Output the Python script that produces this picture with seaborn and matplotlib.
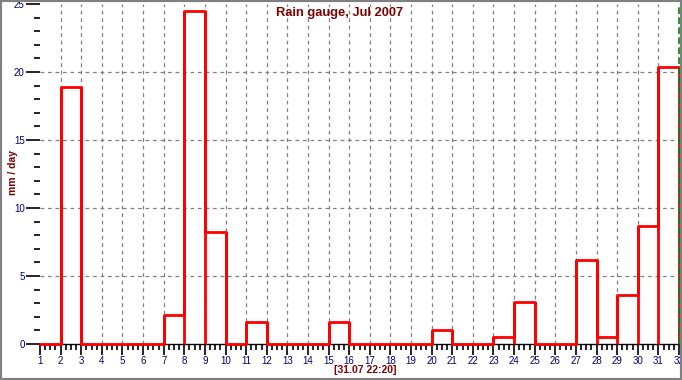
import matplotlib
matplotlib.use("Agg")
import matplotlib.pyplot as plt
import seaborn as sns
import pandas as pd
import numpy as np
from matplotlib.ticker import MultipleLocator
from matplotlib.patches import Rectangle

days = list(range(1, 32))
rain = [0, 18.9, 0, 0, 0, 0, 2.1, 24.5, 8.2, 0, 1.6, 0, 0, 0, 1.6, 0, 0, 0, 0, 1.0,
        0, 0, 0.5, 3.1, 0, 0, 6.2, 0.5, 3.6, 8.7, 20.4]
x_ticks = list(range(1, 33))
y_ticks = [0, 5, 10, 15, 20, 25]
title = "Rain gauge, Jul 2007"
xlabel = "[31.07 22:20]"
ylabel = "mm / day"
now_x = 32

sns.set_style("white")
plt.rcParams['font.family'] = ['Liberation Sans', 'DejaVu Sans']

df = pd.DataFrame({"day": days + [32], "rain": rain + [rain[-1]]})

fig = plt.figure(figsize=(6.82, 3.80), dpi=100)
W, H = 682, 380
ax = fig.add_axes([40 / W, (380 - 344) / H, (679 - 40) / W, (344 - 4) / H])

red = "#ff0000"
sns.lineplot(data=df, x="day", y="rain", ax=ax, color=red, linewidth=2.0,
             drawstyle="steps-post", zorder=3, clip_on=False)
prev = [0] + rain
ax.vlines(days + [32], 0, [max(a, b) for a, b in zip(prev, rain + [0])], color=red,
          linewidth=2.0, zorder=3, clip_on=False)
ax.axvline(now_x, color="#008000", linestyle=(0, (4, 2)), linewidth=1.2, zorder=4,
           clip_on=False)

# grid lines (inner only, like the reference)
for xv in x_ticks[1:-1]:
    ax.axvline(xv, color="#808080", linestyle=(0, (3, 3)), linewidth=0.9, zorder=1)
for yv in y_ticks[1:-1]:
    ax.axhline(yv, color="#808080", linestyle=(0, (3, 3)), linewidth=0.9, zorder=1)

ax.set_xlim(1, 32)
ax.set_ylim(0, 25)
ax.set_xticks(x_ticks)
ax.set_xticklabels([str(t) for t in x_ticks])
ax.set_yticks(y_ticks)
ax.xaxis.set_minor_locator(MultipleLocator(0.25))
ax.yaxis.set_minor_locator(MultipleLocator(1))
ax.grid(False)

for s in ["top", "right", "left"]:
    ax.spines[s].set_visible(False)
ax.spines["bottom"].set_color("black")
ax.spines["bottom"].set_linewidth(1.0)

ax.tick_params(axis="x", which="both", bottom=True)
ax.tick_params(axis="y", which="both", left=True)
ax.tick_params(axis="x", which="major", direction="out", length=8, width=1.2,
               colors="black", labelcolor="#000080", labelsize=7, pad=1)
ax.tick_params(axis="x", which="minor", direction="out", length=4, width=1.2, colors="black")
ax.tick_params(axis="y", which="major", direction="out", length=10, width=1.2,
               colors="black", labelcolor="#000080", labelsize=7, pad=1)
ax.tick_params(axis="y", which="minor", direction="out", length=4, width=1.2, colors="black")

ax.set_xlabel("")
ax.set_ylabel("")
fig.text(340 / W, 1 - 13 / H, title, color="#800000", fontsize=9.3, fontweight="bold",
         ha="center", va="center")
fig.text(365 / W, 1 - 370 / H, xlabel, color="#800000", fontsize=7.5, fontweight="bold",
         ha="center", va="center")
fig.text(13 / W, 1 - 172 / H, ylabel, color="#800000", fontsize=7.5, fontweight="bold",
         ha="center", va="center", rotation=90)

fig.patches.append(Rectangle((0, 0), 1, 1, transform=fig.transFigure, fill=False,
                             edgecolor="#808080", linewidth=3, zorder=10))

fig.savefig("out.png", dpi=100)
